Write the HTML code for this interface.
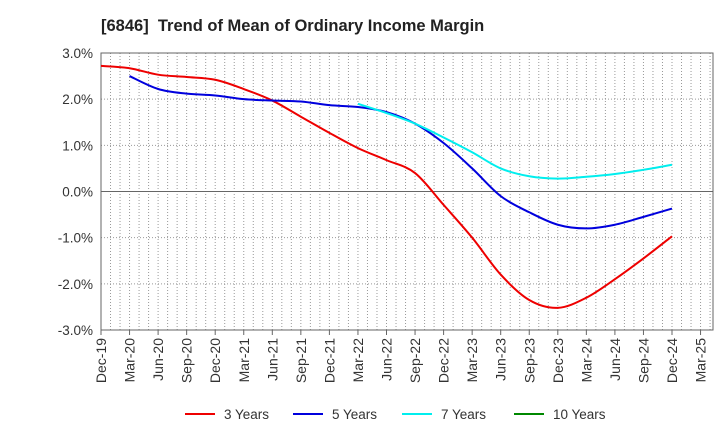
<!DOCTYPE html>
<html><head><meta charset="utf-8"><style>
body{margin:0;background:#fff;font-family:"Liberation Sans",Arial,sans-serif;}
svg text{font-family:"Liberation Sans",Arial,sans-serif;}
</style></head><body>
<svg id="c" width="720" height="440">
<text x="101" y="31" font-size="16.5" font-weight="bold" fill="#222" xml:space="preserve">[6846]  Trend of Mean of Ordinary Income Margin</text>
<g id="grid"></g><g id="axes"></g><g id="series"></g><g id="legend"></g>
</svg>
<script>
const xLabels=["Dec-19","Mar-20","Jun-20","Sep-20","Dec-20","Mar-21","Jun-21","Sep-21","Dec-21","Mar-22","Jun-22","Sep-22","Dec-22","Mar-23","Jun-23","Sep-23","Dec-23","Mar-24","Jun-24","Sep-24","Dec-24","Mar-25"];
const yTicks=[3,2,1,0,-1,-2,-3];
const yTickLabels=["3.0%","2.0%","1.0%","0.0%","-1.0%","-2.0%","-3.0%"];
const seriesNames=["3 Years","5 Years","7 Years","10 Years"];
const seriesColors=["#ee0000","#0000dd","#00eeee","#008800"];
const s3=[2.72,2.67,2.53,2.48,2.42,2.22,1.97,1.62,1.27,0.94,0.68,0.4,-0.29,-1.0,-1.8,-2.35,-2.52,-2.3,-1.9,-1.45,-0.97];
const s5=[null,2.5,2.22,2.12,2.08,2.0,1.97,1.95,1.87,1.83,1.72,1.47,1.05,0.5,-0.1,-0.45,-0.72,-0.8,-0.72,-0.55,-0.37];
const s7=[null,null,null,null,null,null,null,null,null,1.9,1.7,1.47,1.17,0.85,0.5,0.33,0.28,0.32,0.38,0.47,0.58];
const s10=[];
const L=101,R=713,T=53,B=330,step=28.55;
const X=i=>L+i*step, Y=v=>T+(3-v)/6*(B-T);
const ns="http://www.w3.org/2000/svg";
function mk(t,a,p){const e=document.createElementNS(ns,t);for(const k in a)e.setAttribute(k,a[k]);p.appendChild(e);return e;}
const grid=document.getElementById('grid'),axes=document.getElementById('axes'),ser=document.getElementById('series'),leg=document.getElementById('legend');
for(let m=1;m<=64;m++){const x=L+m*step/3;if(x>=R)break;const l=mk('line',{x1:x,x2:x,y1:T,y2:B,stroke:'#999','stroke-dasharray':'1,2','stroke-width':1},grid);

}
yTicks.forEach((v,i)=>{const y=Y(v);const l=mk('line',{x1:L,x2:R,y1:y,y2:y,stroke:v===0?'#666':'#999','stroke-dasharray':v===0?'':'1,2'},grid);


const t=mk('text',{x:L-8,y:y+5,'text-anchor':'end','font-size':13.5,fill:'#333'},axes);t.textContent=yTickLabels[i];

});
const fr=mk('rect',{x:L,y:T,width:R-L,height:B-T,fill:'none',stroke:'#666'},axes);


xLabels.forEach((s,i)=>{const x=X(i);mk('line',{x1:x,x2:x,y1:B,y2:B+5,stroke:'#666'},axes);
const t=mk('text',{transform:`translate(${x+5},${B+8}) rotate(-90)`,'text-anchor':'end','font-size':14,fill:'#333'},axes);t.textContent=s;

});
function path(arr){const p=[];arr.forEach((v,i)=>{if(v!=null)p.push([X(i),Y(v)]);});if(p.length<2)return '';
let d=`M${p[0][0]},${p[0][1]}`;for(let i=0;i<p.length-1;i++){const p0=p[i-1]||p[i],p1=p[i],p2=p[i+1],p3=p[i+2]||p2;
d+=` C${p1[0]+(p2[0]-p0[0])/6},${p1[1]+(p2[1]-p0[1])/6} ${p2[0]-(p3[0]-p1[0])/6},${p2[1]-(p3[1]-p1[1])/6} ${p2[0]},${p2[1]}`;}return d;}
[s3,s5,s7,s10].forEach((a,k)=>{const d=path(a);if(!d)return;const e=mk('path',{d:d,fill:'none',stroke:seriesColors[k],'stroke-width':2},ser);

});
const lx=[185,293,402,514];
seriesNames.forEach((n,k)=>{const g=mk('g',{},leg);


mk('line',{x1:lx[k],x2:lx[k]+30,y1:414,y2:414,stroke:seriesColors[k],'stroke-width':2},g);
const t=mk('text',{x:lx[k]+39,y:419,'font-size':13.5,fill:'#333'},g);t.textContent=n;});
</script>
</body></html>
